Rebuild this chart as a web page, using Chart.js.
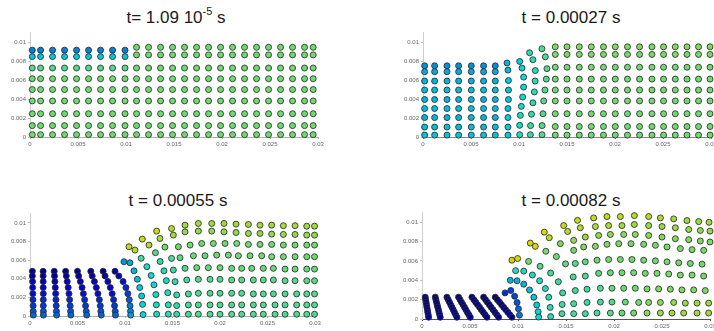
<!DOCTYPE html>
<html><head><meta charset="utf-8">
<script src="https://cdn.jsdelivr.net/npm/chart.js@4"></script>
<style>
html,body{margin:0;padding:0;background:#fff;width:714px;height:331px;overflow:hidden;position:relative;font-family:"Liberation Sans",Arial,sans-serif}
.box{position:absolute}
.title{position:absolute;font-size:17px;color:#1a1a1a;white-space:nowrap;transform:translateX(-50%);line-height:17px}
.title sup{font-size:11px;line-height:0;position:relative;top:-1px}
</style></head><body>
<div class="title" id="t0" style="left:176px;top:9px"></div>
<div class="title" id="t1" style="left:571px;top:9px"></div>
<div class="title" id="t2" style="left:178px;top:192px"></div>
<div class="title" id="t3" style="left:571px;top:192px"></div>
<div class="box" style="left:0px;top:27px"><canvas id="c0" width="330" height="126"></canvas></div>
<div class="box" style="left:393px;top:27px"><canvas id="c1" width="330" height="126"></canvas></div>
<div class="box" style="left:0px;top:208px"><canvas id="c2" width="327" height="124"></canvas></div>
<div class="box" style="left:392px;top:207px"><canvas id="c3" width="330" height="128"></canvas></div>
<script>
// ---------- titles and ticks ----------
const titles = ['t= 1.09 10^{-5} s', 't = 0.00027 s', 't = 0.00055 s', 't = 0.00082 s'];
const xTickVals = [0, 5, 10, 15, 20, 25, 30];            // mm
const xTickLabels = ['0', '0.005', '0.01', '0.015', '0.02', '0.025', '0.03'];
const yTickVals = [0, 2, 4, 6, 8, 10];                   // mm
const yTickLabels = ['0', '0.002', '0.004', '0.006', '0.008', '0.01'];

// ---------- panel 1 : t = 1.09e-5 s (positions in mm, value = colour quantity 0..1) ----------
const p1LeftCols = [0.24, 1.1, 2.35, 3.6, 4.85, 6.1, 7.35, 8.6, 9.9];
const p1LeftRows = [9.15, 8.47, 7.27, 6.14, 5.0, 3.8, 2.45, 1.2, 0.25];
const p1LeftRowVal = [0.27, 0.35, 0.47, 0.5, 0.5, 0.5, 0.5, 0.5, 0.5];
const p1RightCols = [11.1, 12.35, 13.6, 14.85, 16.1, 17.35, 18.6, 19.85, 21.1, 22.35, 23.6, 24.85, 26.1, 27.35, 28.6, 29.5];
const p1RightRows = [9.45, 8.65, 7.27, 6.14, 5.0, 3.8, 2.45, 1.2, 0.25];
const p1RightRowVal = [0.5, 0.5, 0.5, 0.5, 0.5, 0.5, 0.5, 0.5, 0.5];

// ---------- panel 2 : t = 0.00027 s ----------
const p2BlockCols = [0.17, 1.21, 2.5, 3.71, 5.03, 6.31, 7.53];
const p2BlockRows = [7.5, 6.88, 5.9, 4.95, 3.95, 3.0, 2.05, 1.05, 0.2];
const p2BlockRowVal = [0.29, 0.32, 0.33, 0.34, 0.33, 0.34, 0.33, 0.34, 0.35];
const p2Bend = [
  [8.75,7.8,0.33],[8.85,7.05,0.34],[8.9,5.95,0.35],[8.9,4.95,0.35],[8.9,3.95,0.35],[8.85,3.0,0.35],[8.85,2.05,0.36],[8.85,1.05,0.36],[8.85,0.2,0.36],
  [10.07,7.96,0.36],[10.31,7.26,0.37],[10.48,6.31,0.38],[10.48,5.26,0.38],[10.38,4.21,0.39],[10.24,3.23,0.39],[10.14,2.28,0.4],[10.07,1.23,0.4],[10.07,0.24,0.4],
  [11.1,8.88,0.42],[11.45,8.14,0.42],[11.7,7.0,0.42],[11.68,5.9,0.42],[11.6,4.75,0.43],[11.45,3.6,0.43],[11.3,2.4,0.43],[11.2,1.2,0.44],[11.18,0.24,0.44],
  [12.39,9.3,0.46],[12.74,8.45,0.46],[12.91,7.2,0.46],[12.84,6.1,0.46],[12.7,4.95,0.47],[12.57,3.8,0.47],[12.5,2.45,0.47],[12.4,1.2,0.47],[12.4,0.24,0.47]
];
const p2RightCols = [13.78, 15.0, 16.28, 17.53, 18.8, 20.03, 21.3, 22.56, 23.85, 25.06, 26.28, 27.5, 28.7, 29.9];
const p2RightRows = [9.5, 8.7, 7.35, 6.1, 4.95, 3.8, 2.45, 1.1, 0.2];
const p2RightRowVal = [0.52, 0.51, 0.5, 0.5, 0.5, 0.5, 0.5, 0.5, 0.5];

// ---------- panel 3 : t = 0.00055 s ----------
const p3BlockRows = [4.8, 4.3, 3.7, 3.05, 2.4, 1.75, 1.1, 0.5, 0.1];
const p3BlockRowVal = [0.04, 0.06, 0.09, 0.12, 0.14, 0.17, 0.19, 0.22, 0.24];
const p3BlockColsX = [
  [0.25, 0.25, 0.27, 0.28, 0.3, 0.31, 0.33, 0.34, 0.35],
  [1.38, 1.38, 1.39, 1.39, 1.4, 1.4, 1.4, 1.41, 1.41],
  [2.55, 2.58, 2.62, 2.66, 2.7, 2.73, 2.76, 2.78, 2.8],
  [3.75, 3.82, 3.92, 4.02, 4.1, 4.17, 4.23, 4.27, 4.3],
  [5.0, 5.12, 5.3, 5.48, 5.62, 5.75, 5.85, 5.92, 5.97],
  [6.4, 6.55, 6.78, 6.98, 7.15, 7.3, 7.4, 7.46, 7.5],
  [7.7, 7.9, 8.2, 8.45, 8.65, 8.8, 8.9, 8.97, 9.0]
];
const p3Arcs = [
  [8.95,4.8,0.07],[9.35,4.3,0.1],[9.8,3.7,0.14],[10.1,3.05,0.17],[10.3,2.4,0.2],[10.45,1.75,0.23],[10.53,1.1,0.26],[10.58,0.5,0.28],[10.6,0.1,0.3],
  [9.89,5.83,0.3],[10.52,5.72,0.32],[10.95,4.85,0.33],[11.3,3.95,0.34],[11.55,3.05,0.35],[11.75,2.15,0.36],[11.85,1.25,0.37],[11.9,0.15,0.38],
  [10.42,7.44,0.6],[11.05,7.08,0.58],[11.7,6.2,0.45],[12.3,5.3,0.4],[12.75,4.35,0.38],[13.05,3.35,0.38],[13.25,2.3,0.39],[13.3,1.2,0.4],[13.33,0.2,0.4],
  [11.82,8.26,0.6],[12.52,7.62,0.58],[13.2,6.8,0.47],[13.7,5.85,0.43],[14.1,4.85,0.41],[14.35,3.8,0.4],[14.5,2.5,0.41],[14.56,1.2,0.42],[14.56,0.2,0.42],
  [13.33,9.12,0.6],[13.68,8.33,0.57],[14.2,7.4,0.5],[14.9,6.19,0.46],[15.09,4.94,0.44],[15.27,3.69,0.43],[15.44,2.26,0.43],[15.44,1.12,0.43],[15.44,0.19,0.43],
  [14.9,9.4,0.58],[15.09,8.69,0.56],[15.62,7.44,0.5],[15.79,6.26,0.47],[16.32,5.12,0.46],[16.5,3.87,0.45],[16.67,2.37,0.45],[16.67,1.19,0.45],[16.67,0.19,0.45]
];
const p3RegRowVal = [0.56, 0.54, 0.5, 0.5, 0.49, 0.47, 0.46, 0.46, 0.46];
const p3RegCols = [
  [[16.32,9.76],[16.32,9.04],[16.85,7.62],[17.2,6.47],[17.55,5.19],[17.72,3.94],[17.72,2.44],[17.72,1.19],[17.72,0.19]],
  [[17.72,9.94],[17.72,9.12],[18.07,7.79],[18.42,6.47],[18.77,5.19],[18.95,3.94],[18.95,2.44],[18.95,1.19],[18.95,0.19]],
  [[19.13,9.94],[19.13,9.12],[19.3,7.79],[19.65,6.54],[20.0,5.19],[20.0,3.94],[20.0,2.44],[20.0,1.19],[20.0,0.19]],
  [[20.42,9.94],[20.42,9.04],[20.53,7.79],[20.88,6.54],[21.23,5.12],[21.23,3.87],[21.23,2.44],[21.23,1.19],[21.23,0.19]],
  [[21.69,9.87],[21.69,8.97],[21.76,7.79],[21.93,6.47],[22.28,5.12],[22.28,3.87],[22.28,2.44],[22.28,1.19],[22.28,0.19]],
  [[22.99,9.83],[22.99,8.87],[22.99,7.69],[23.16,6.47],[23.34,5.12],[23.51,3.87],[23.51,2.37],[23.51,1.19],[23.51,0.19]],
  [[24.21,9.76],[24.21,8.87],[24.21,7.69],[24.39,6.47],[24.56,5.12],[24.56,3.87],[24.56,2.37],[24.56,1.19],[24.56,0.19]],
  [[25.44,9.76],[25.44,8.8],[25.44,7.69],[25.44,6.37],[25.62,5.12],[25.62,3.87],[25.62,2.37],[25.79,1.19],[25.79,0.19]],
  [[26.67,9.7],[26.67,8.76],[26.67,7.62],[26.67,6.37],[26.85,5.04],[26.85,3.79],[26.85,2.37],[26.85,1.19],[26.85,0.19]],
  [[27.9,9.7],[27.9,8.76],[27.9,7.62],[27.9,6.37],[27.9,5.04],[27.9,3.79],[28.07,2.37],[28.07,1.19],[28.07,0.19]],
  [[29.13,9.65],[29.13,8.69],[29.13,7.62],[29.13,6.37],[29.13,5.04],[29.13,3.79],[29.13,2.37],[29.13,1.19],[29.13,0.19]],
  [[29.95,9.65],[29.95,8.69],[29.95,7.62],[29.95,6.37],[29.95,5.04],[29.95,3.79],[29.95,2.37],[29.95,1.19],[29.95,0.19]]
];

// ---------- panel 4 : t = 0.00082 s ----------
const p4BlockRows = [2.26, 2.0, 1.74, 1.48, 1.22, 0.96, 0.7, 0.44, 0.18];
const p4BlockRowVal = [0.02, 0.02, 0.03, 0.03, 0.04, 0.04, 0.05, 0.05, 0.06];
const p4BlockColsX = [
  [0.34, 0.38, 0.43, 0.47, 0.51, 0.56, 0.6, 0.65, 0.69],
  [1.38, 1.45, 1.51, 1.58, 1.64, 1.71, 1.77, 1.84, 1.9],
  [2.6, 2.73, 2.86, 2.99, 3.12, 3.25, 3.38, 3.51, 3.64],
  [3.81, 3.96, 4.11, 4.27, 4.42, 4.57, 4.72, 4.88, 5.03],
  [5.2, 5.4, 5.59, 5.79, 5.99, 6.18, 6.38, 6.57, 6.77],
  [6.42, 6.62, 6.81, 7.01, 7.2, 7.4, 7.59, 7.79, 7.98],
  [7.63, 7.85, 8.07, 8.28, 8.5, 8.72, 8.94, 9.15, 9.37]
];
const p4Arcs = [
  [8.65,2.7,0.18],[9.25,2.95,0.2],[9.65,2.35,0.2],[9.9,1.7,0.22],[10.05,1.05,0.24],[10.15,0.4,0.26],
  [9.2,4.0,0.33],[9.9,3.95,0.33],[10.6,3.6,0.33],[11.2,3.0,0.34],[11.65,2.25,0.35],[11.95,1.45,0.36],[12.1,0.75,0.37],[12.15,0.2,0.38],
  [9.75,5.0,0.42],[10.6,4.95,0.41],[11.5,4.55,0.4],[12.25,3.95,0.4],[12.85,3.15,0.41],[13.2,2.25,0.42],[13.35,1.2,0.42],[13.4,0.25,0.42],
  [9.37,6.08,0.64],[9.96,6.25,0.63],[11.1,5.95,0.5],[12.3,5.45,0.47],[13.4,4.75,0.45],[14.2,3.85,0.44],[14.65,2.7,0.44],[14.6,1.5,0.44],[14.58,0.55,0.44],
  [11.28,7.85,0.63],[11.8,7.51,0.62],[12.9,7.0,0.52],[14.0,6.45,0.5],[14.95,5.7,0.48],[15.75,4.35,0.46],[15.97,2.94,0.45],[15.8,1.58,0.45],[15.8,0.55,0.45]
];
const p4Rows = [
  [[12.74,8.98,0.62],[14.76,9.66,0.6],[16.2,10.2,0.6],[17.88,10.45,0.6],[19.27,10.59,0.6],[20.66,10.59,0.59],[22.12,10.69,0.58],[23.61,10.59,0.58],[24.83,10.45,0.57],[26.22,10.35,0.56],[27.6,10.18,0.56],[28.82,10.07,0.55],[29.9,10.0,0.55]],
  [[13.26,8.4,0.6],[15.17,9.05,0.58],[16.49,9.43,0.58],[18.06,9.56,0.57],[19.44,9.66,0.57],[20.83,9.66,0.56],[22.12,9.77,0.56],[23.61,9.66,0.55],[25.0,9.56,0.55],[26.39,9.43,0.55],[27.78,9.25,0.54],[28.99,9.15,0.54],[30.0,9.08,0.54]],
  [[14.41,7.79,0.52],[15.8,8.13,0.54],[17.01,8.47,0.55],[18.4,8.64,0.54],[19.62,8.74,0.54],[21.01,8.74,0.53],[22.22,8.74,0.53],[23.61,8.64,0.53],[25.0,8.47,0.52],[26.39,8.3,0.52],[27.78,8.2,0.52],[28.99,8.06,0.52],[30.0,7.96,0.52]],
  [[15.8,7.1,0.5],[16.84,7.45,0.52],[18.06,7.51,0.52],[19.27,7.72,0.52],[20.49,7.79,0.52],[21.77,7.79,0.51],[23.09,7.72,0.51],[24.31,7.62,0.51],[25.52,7.45,0.51],[26.91,7.28,0.51],[28.13,7.17,0.51],[29.34,7.1,0.51]],
  [[15.97,5.74,0.47],[17.01,5.91,0.48],[18.23,6.08,0.5],[19.44,6.15,0.5],[20.66,6.15,0.5],[21.87,6.15,0.5],[23.09,6.08,0.5],[24.31,6.01,0.5],[25.52,5.91,0.5],[26.74,5.81,0.5],[27.95,5.74,0.5],[29.17,5.67,0.5]],
  [[17.01,4.44,0.46],[18.4,4.72,0.47],[19.62,4.78,0.49],[20.83,4.78,0.5],[22.05,4.78,0.5],[23.26,4.72,0.5],[24.48,4.72,0.51],[25.7,4.65,0.51],[26.91,4.54,0.51],[28.13,4.54,0.51],[29.34,4.44,0.51]],
  [[17.19,3.08,0.45],[18.58,3.18,0.46],[19.79,3.18,0.48],[21.01,3.18,0.5],[22.22,3.18,0.5],[23.44,3.11,0.51],[24.65,3.11,0.52],[25.87,3.08,0.52],[27.08,3.01,0.52],[28.3,3.01,0.52],[29.51,2.94,0.52]],
  [[17.19,1.71,0.44],[18.58,1.75,0.45],[19.79,1.75,0.47],[21.18,1.75,0.49],[22.57,1.71,0.5],[23.61,1.71,0.52],[24.83,1.71,0.53],[26.22,1.71,0.54],[27.43,1.64,0.54],[28.65,1.64,0.55],[29.86,1.64,0.55]],
  [[17.01,0.55,0.44],[18.23,0.62,0.45],[19.62,0.62,0.47],[20.83,0.62,0.49],[22.05,0.62,0.51],[23.44,0.62,0.53],[24.83,0.62,0.55],[26.04,0.62,0.56],[27.26,0.62,0.56],[28.65,0.62,0.56],[29.86,0.62,0.56]]
];

// ---------- helpers ----------
const SHADE = 0.86;
function jet(v) {
  const c = t => Math.max(0, Math.min(1, t));
  const r = c(1.5 - Math.abs(4 * v - 3)), g = c(1.5 - Math.abs(4 * v - 2)), b = c(1.5 - Math.abs(4 * v - 1));
  return 'rgb(' + Math.round(r * 255 * SHADE) + ',' + Math.round(g * 255 * SHADE) + ',' + Math.round(b * 255 * SHADE) + ')';
}
function grid(cols, rows, vals, out) {
  cols.forEach(x => rows.forEach((y, i) => out.push([x, y, vals[i]])));
}
function colsWithRows(colsX, rows, vals, out) {
  colsX.forEach(xs => xs.forEach((x, i) => out.push([x, rows[i], vals[i]])));
}

const panels = [[], [], [], []];
grid(p1LeftCols, p1LeftRows, p1LeftRowVal, panels[0]);
grid(p1RightCols, p1RightRows, p1RightRowVal, panels[0]);

grid(p2BlockCols, p2BlockRows, p2BlockRowVal, panels[1]);
p2Bend.forEach(p => panels[1].push(p));
grid(p2RightCols, p2RightRows, p2RightRowVal, panels[1]);

colsWithRows(p3BlockColsX, p3BlockRows, p3BlockRowVal, panels[2]);
p3Arcs.forEach(p => panels[2].push(p));
p3RegCols.forEach(col => col.forEach((p, i) => panels[2].push([p[0], p[1], p3RegRowVal[i]])));

colsWithRows(p4BlockColsX, p4BlockRows, p4BlockRowVal, panels[3]);
p4Arcs.forEach(p => panels[3].push(p));
p4Rows.forEach(row => row.forEach(p => panels[3].push(p)));

const axisColors = ['#b0b0b0', '#8a8a8a', '#b0b0b0', '#555'];

// titles (with superscript support)
titles.forEach((t, i) => {
  const el = document.getElementById('t' + i);
  const m = t.match(/^(.*)\^\{(.*)\}(.*)$/);
  if (m) {
    el.appendChild(document.createTextNode(m[1]));
    const s = document.createElement('sup'); s.textContent = m[2]; el.appendChild(s);
    el.appendChild(document.createTextNode(m[3]));
  } else el.textContent = t;
});

panels.forEach((pts, i) => {
  new Chart(document.getElementById('c' + i), {
    type: 'scatter',
    data: {
      datasets: [{
        data: pts.map(p => ({ x: p[0], y: p[1] })),
        pointBackgroundColor: pts.map(p => jet(p[2])),
        pointBorderColor: 'rgba(45,45,45,0.85)',
        pointBorderWidth: 1,
        pointRadius: 3.0,
        clip: false
      }]
    },
    options: {
      responsive: false, animation: false, devicePixelRatio: 1,
      layout: { padding: { left: 0, right: 12, top: 0, bottom: 0 } },
      plugins: { legend: { display: false }, tooltip: { enabled: false }, title: { display: false } },
      scales: {
        x: {
          type: 'linear', min: 0, max: 30,
          afterBuildTicks: s => { s.ticks = xTickVals.map(v => ({ value: v })); },
          afterFit: s => { s.height = 16; },
          grid: { display: true, drawOnChartArea: false, drawTicks: true, tickLength: 2, color: axisColors[i] },
          border: { display: true, color: axisColors[i], width: 1 },
          ticks: { callback: (v, k) => xTickLabels[k], autoSkip: false, maxRotation: 0, padding: 2,
                   font: { size: 6, family: 'Liberation Sans' }, color: '#666' }
        },
        y: {
          type: 'linear', min: 0, max: 11,
          afterBuildTicks: s => { s.ticks = yTickVals.map(v => ({ value: v })); },
          afterFit: s => { s.width = 30; },
          grid: { display: true, drawOnChartArea: false, drawTicks: true, tickLength: 2, color: '#bbb' },
          border: { display: true, color: '#cfcfcf', width: 1 },
          ticks: { callback: (v, k) => yTickLabels[k], autoSkip: false, padding: 2,
                   font: { size: 6, family: 'Liberation Sans' }, color: '#666' }
        }
      }
    }
  });
});
</script>
</body></html>
